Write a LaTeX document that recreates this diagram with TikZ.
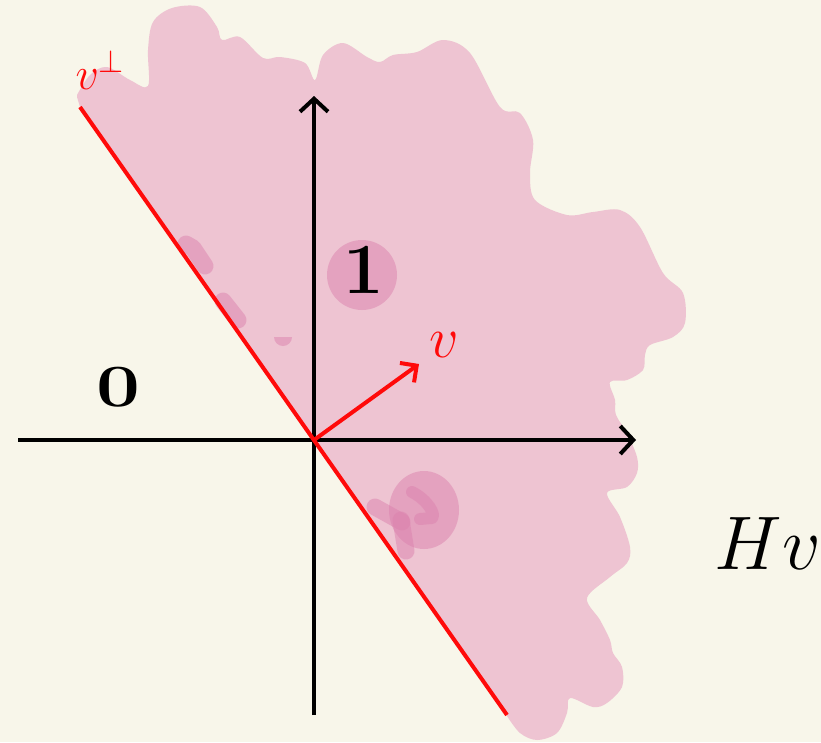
\RequirePackage{fix-cm}
\documentclass[tikz,border=0pt]{standalone}
\usetikzlibrary{arrows.meta}
\definecolor{bgcream}{HTML}{F8F6EA}
\definecolor{softpink}{HTML}{EEC4D2}
\definecolor{deeppink}{HTML}{DC82AE}
\definecolor{penred}{HTML}{FF0A0A}
\tikzset{
  axisline/.style={line width=4pt, black, -{Straight Barb[length=13pt,width=28pt,line width=4pt]}},
  redline/.style={line width=4pt, penred},
  redvec/.style={line width=4pt, penred, -{Straight Barb[length=12pt,width=24pt,line width=4pt]}},
  hatch/.style={deeppink, opacity=0.5, line width=17pt, line cap=round, line join=round},
  hatchfill/.style={fill=deeppink, fill opacity=0.5},
  lbl/.style={inner sep=0pt, black},
  redlbl/.style={inner sep=0pt, penred}
}
\begin{document}
\begin{tikzpicture}[x=1pt,y=-1pt]
\useasboundingbox (0,0) rectangle (821,742);
\fill[bgcream] (0,0) rectangle (821,742);

% coordinates
\coordinate (O) at (314,440);
\coordinate (xs) at (18,440);
\coordinate (xe) at (636,440);
\coordinate (ys) at (314,715);
\coordinate (ye) at (314,96);
\coordinate (ls) at (80,107);
\coordinate (le) at (507,715);
\coordinate (ve) at (419,364);

% pink half-plane
\fill[softpink] (le) -- (ls) -- (77,97) -- plot[smooth, tension=0.55] coordinates {
 (77,95) (90,75) (107,67) (130,80) (148,86) (148,50) (153,22) (172,8) (200,7)
 (217,27) (222,40) (240,37) (263,58) (280,57) (305,63) (315,80) (323,55)
 (343,43) (367,57) (380,62) (393,55) (417,52) (443,40) (470,53) (500,107)
 (520,113) (533,140) (530,173) (535,200) (567,215) (593,212) (620,210)
 (640,227) (663,273) (683,293) (685,323) (673,337) (650,345) (645,355)
 (643,370) (627,380) (610,382) (615,400) (616,415) (627,433) (637,457)
 (637,473) (627,487) (607,493) (620,517) (630,547) (627,563) (610,577)
 (587,598) (600,620) (610,640) (613,653) (622,667) (622,687) (607,703)
 (593,707) (570,698) (567,713) (557,733) (537,740) (520,733) (507,716)} -- cycle;

% darker pink marks
\fill[hatchfill] (362,275) circle[radius=35];
\draw[hatch] (186,244) -- (193,248) -- (205,266);
\draw[hatch] (223,301) -- (238,320);
\fill[hatchfill] (274,337) -- (292,337) arc[start angle=0,end angle=180,radius=9] -- cycle;
\fill[hatchfill] (424,510) ellipse[x radius=35, y radius=39];
\draw[hatch] (375,507) -- (402,522);
\draw[hatch] (401,520) -- (406,551);
\draw[hatch, line width=12pt] (412,492) .. controls (428,500) and (436,515) .. (432,518) -- (420,519);

% axes
\draw[axisline] (xs) -- (xe);
\draw[axisline] (ys) -- (ye);

% red line and vector
\draw[redline] (ls) -- (le);
\draw[redvec] (O) -- (ve);

% labels
\node[lbl, font=\fontsize{72}{80}\bfseries] (one) at (364,270) {1};
\node[lbl, font=\fontsize{60}{66}\bfseries] (zero) at (118,387) {\scalebox{1.3}[1]{0}};
\node[lbl, font=\fontsize{76}{84}\selectfont] (Hv) at (768,544) {$Hv$};
\node[redlbl, font=\fontsize{58}{64}\selectfont] (vlab) at (444,345) {$v$};
\node[redlbl, font=\fontsize{46}{52}\selectfont] (vperp) at (100,70) {$v^{\perp}$};
\end{tikzpicture}
\end{document}
